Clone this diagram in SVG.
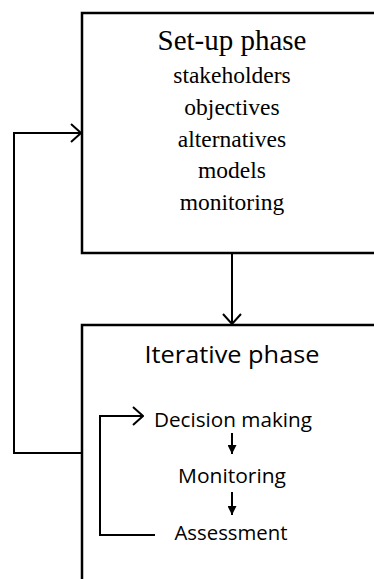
<svg xmlns="http://www.w3.org/2000/svg" width="374" height="579" viewBox="0 0 374 579">
<style>
.box{fill:#fff;stroke:#000;stroke-width:2.5}
.ln{fill:none;stroke:#000;stroke-width:2}
.serif{font-family:"Liberation Serif","Times New Roman",serif;fill:#000;text-anchor:middle}
.sans{font-family:"Open Sans","Liberation Sans",sans-serif;fill:#000;text-anchor:middle}
</style>
<defs>
<marker id="open" viewBox="0 0 12 20" refX="11" refY="10" markerWidth="12" markerHeight="20" markerUnits="userSpaceOnUse" orient="auto">
<path d="M1,1 L11,10 L1,19" fill="none" stroke="#000" stroke-width="2"/>
</marker>
<marker id="solid" viewBox="0 0 10 10" refX="10" refY="5" markerWidth="10" markerHeight="9" markerUnits="userSpaceOnUse" orient="auto">
<path d="M0,0 L10,5 L0,10 Z" fill="#000"/>
</marker>
</defs>
<g id="setup">
<rect class="box" x="82" y="13" width="320" height="240"/>
<text class="serif" x="232" y="50" font-size="29">Set-up phase</text>
<text class="serif" x="232" y="83" font-size="23.5">stakeholders</text>
<text class="serif" x="232" y="115" font-size="23.5">objectives</text>
<text class="serif" x="232" y="147" font-size="23.5">alternatives</text>
<text class="serif" x="232" y="178" font-size="23.5">models</text>
<text class="serif" x="232" y="210" font-size="23.5">monitoring</text>
</g>
<g id="iterative">
<rect class="box" x="82" y="325" width="320" height="280"/>
<text class="sans" x="232" y="363" font-size="24" textLength="175" lengthAdjust="spacingAndGlyphs">Iterative phase</text>
</g>
<g id="decision">
<text class="sans" x="233" y="427" font-size="20" textLength="158" lengthAdjust="spacingAndGlyphs">Decision making</text>
</g>
<g id="monitoring">
<text class="sans" x="232" y="483" font-size="20" textLength="108" lengthAdjust="spacingAndGlyphs">Monitoring</text>
</g>
<g id="assessment">
<text class="sans" x="231" y="540" font-size="20" textLength="113" lengthAdjust="spacingAndGlyphs">Assessment</text>
</g>
<g id="connectors">
<path class="ln" d="M232,253 V324" marker-end="url(#open)"/>
<path class="ln" d="M82,453 H14 V133 H81" marker-end="url(#open)"/>
<path class="ln" d="M155,535 H100 V416 H143" marker-end="url(#open)"/>
<path class="ln" d="M232,433 V454" marker-end="url(#solid)"/>
<path class="ln" d="M232,492 V515" marker-end="url(#solid)"/>
</g>
</svg>
